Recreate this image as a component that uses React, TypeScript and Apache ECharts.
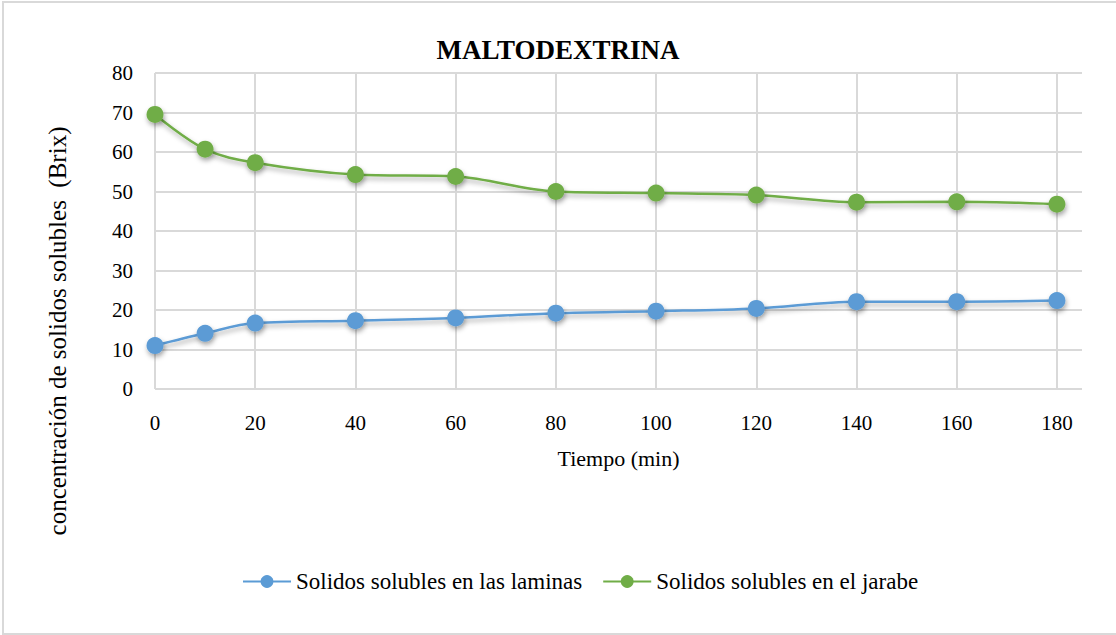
import React, { useEffect, useRef } from "react";
import * as echarts from "echarts";

const tiempo = [0, 10, 20, 40, 60, 80, 100, 120, 140, 160, 180];
const laminas = [11.0, 14.1, 16.7, 17.3, 18.0, 19.2, 19.7, 20.4, 22.1, 22.1, 22.4];
const jarabe = [69.5, 60.7, 57.3, 54.3, 53.8, 50.0, 49.6, 49.1, 47.3, 47.4, 46.8];
const seriesNames = ["Solidos solubles en las laminas", "Solidos solubles en el jarabe"];
const titleText = "MALTODEXTRINA";
const xName = "Tiempo (min)";
const yName = "concentración de solidos solubles  (Brix)";

const FONT = "Liberation Serif";
const BLUE = "#5B9BD5";
const GREEN = "#70AD47";

export default function App() {
  const ref = useRef<HTMLDivElement>(null);
  useEffect(() => {
    document.body.style.margin = "0";
    const chart = echarts.init(ref.current!, undefined, { renderer: "svg" });
    const shadow = {
      shadowColor: "rgba(0,0,0,0.35)",
      shadowBlur: 5,
      shadowOffsetX: 1,
      shadowOffsetY: 3,
    };
    const mk = (name: string, vals: number[], color: string) => ({
      name,
      type: "line",
      data: tiempo.map((t, i) => [t, vals[i]]),
      smooth: 0.35,
      symbol: "circle",
      symbolSize: 17,
      lineStyle: { color, width: 2.5, ...shadow },
      itemStyle: { color, ...shadow },
    });
    chart.setOption({
      animation: false,
      backgroundColor: "#ffffff",
      textStyle: { fontFamily: FONT },
      title: {
        text: titleText,
        left: "center",
        top: 31,
        textStyle: { fontFamily: FONT, fontSize: 27, fontWeight: "bold", color: "#000" },
      },
      grid: { left: 155, right: 34, top: 73, bottom: 246 },
      xAxis: {
        type: "value",
        min: 0,
        max: 185,
        interval: 20,
        name: xName,
        nameLocation: "middle",
        nameGap: 58,
        nameTextStyle: { fontFamily: FONT, fontSize: 22, color: "#000" },
        axisLine: { show: false },
        axisTick: { show: false },
        axisLabel: {
          fontFamily: FONT,
          fontSize: 21,
          color: "#000",
          margin: 23,
          showMaxLabel: false,
        },
        splitLine: { show: true, showMaxLine: false, lineStyle: { color: "#d9d9d9", width: 2 } },
      },
      yAxis: {
        type: "value",
        min: 0,
        max: 80,
        interval: 10,
        axisLine: { show: false },
        axisTick: { show: false },
        axisLabel: { fontFamily: FONT, fontSize: 21, color: "#000", margin: 22 },
        splitLine: { show: true, lineStyle: { color: "#d9d9d9", width: 2 } },
      },
      legend: {
        data: seriesNames,
        bottom: 37,
        left: 237,
        itemWidth: 48,
        itemHeight: 16,
        itemGap: 20,
        textStyle: { fontFamily: FONT, fontSize: 23, color: "#000" },
      },
      graphic: [
        {
          type: "rect",
          shape: { x: 3, y: 2, width: 1116, height: 632 },
          style: { fill: "none", stroke: "#d9d9d9", lineWidth: 2 },
          silent: true,
        },
        {
          type: "text",
          x: 57,
          y: 331,
          rotation: Math.PI / 2,
          style: {
            text: yName,
            fontFamily: FONT,
            fontSize: 25,
            fill: "#000",
            align: "center",
            verticalAlign: "middle",
          },
        },
      ],
      series: [mk(seriesNames[0], laminas, BLUE), mk(seriesNames[1], jarabe, GREEN)],
    });
    return () => chart.dispose();
  }, []);
  return <div ref={ref} style={{ width: 1116, height: 635, position: "absolute", left: 0, top: 0 }} />;
}
